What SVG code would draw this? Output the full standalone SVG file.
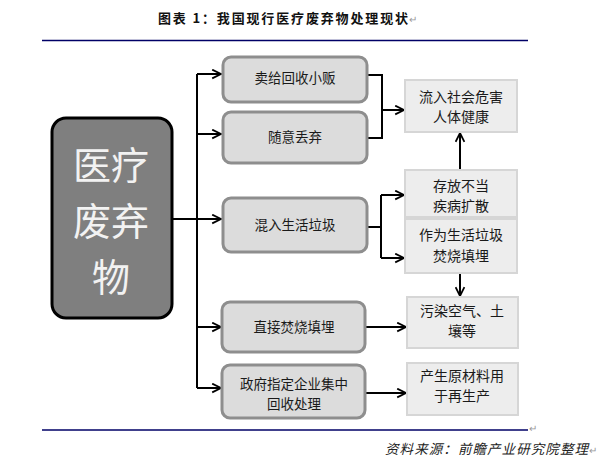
<svg xmlns="http://www.w3.org/2000/svg" width="610" height="462" viewBox="0 0 610 462">
<defs>
<style>
text{font-family:"Noto Sans CJK SC","Liberation Sans",sans-serif;}
.mid{fill:#dcdcdc;stroke:#8e8e8e;stroke-width:3;}
.rt{fill:#ededed;stroke:#d6d6d6;stroke-width:2;}
.t{font-size:13.5px;fill:#1a1a1a;text-anchor:middle;}
.r{font-size:14px;fill:#1a1a1a;text-anchor:middle;}
.big{font-size:38px;fill:#f2f2f2;text-anchor:middle;}
.ln{stroke:#000;stroke-width:2;fill:none;}
.ar{stroke:#000;stroke-width:2;fill:none;marker-end:url(#ah);}
.pm{font-size:10px;fill:#999;}
</style>
<marker id="ah" viewBox="0 0 10 10" refX="9" refY="5" markerWidth="5.5" markerHeight="5.5" orient="auto" markerUnits="strokeWidth">
<path d="M1,1 L9,5 L1,9" fill="none" stroke="#000" stroke-width="1.6"/>
</marker>
</defs>
<rect width="610" height="462" fill="#fff"/>
<text x="158" y="23" font-size="13" font-weight="bold" fill="#111" textLength="250" lengthAdjust="spacing">图表 1：我国现行医疗废弃物处理现状</text>
<text class="pm" x="409" y="23">↵</text>
<line x1="42" y1="40.5" x2="528" y2="40.5" stroke="#000066" stroke-width="1.5"/>
<line x1="42" y1="430" x2="528" y2="430" stroke="#000066" stroke-width="1.5"/>
<text class="pm" x="529" y="432">↵</text>
<text x="385" y="454" font-size="13.5" font-style="italic" fill="#222" textLength="203" lengthAdjust="spacing">资料来源：前瞻产业研究院整理</text>
<text class="pm" x="589" y="454">↵</text>

<g id="connectors">
<polyline class="ln" points="197,74 197,388"/>
<line class="ar" x1="197" y1="74" x2="221" y2="74"/>
<line class="ar" x1="197" y1="134" x2="221" y2="134"/>
<line class="ar" x1="172" y1="219" x2="221" y2="219"/>
<line class="ar" x1="197" y1="327" x2="221" y2="327"/>
<line class="ar" x1="197" y1="388" x2="221" y2="388"/>
<polyline class="ln" points="367,75 382,75 382,138 366,138"/>
<line class="ar" x1="382" y1="110" x2="404" y2="110"/>
<line class="ln" x1="367" y1="227" x2="381" y2="227"/>
<polyline class="ln" points="381,195 381,258"/>
<line class="ar" x1="381" y1="195" x2="404" y2="195"/>
<line class="ar" x1="381" y1="258" x2="404" y2="258"/>
<line class="ar" x1="460" y1="170" x2="460" y2="133"/>
<line class="ar" x1="460" y1="273" x2="460" y2="296"/>
<line class="ar" x1="365" y1="327" x2="406" y2="327"/>
<line class="ar" x1="365" y1="393" x2="406" y2="393"/>
</g>

<g id="n-main">
<rect x="52" y="118" width="120" height="200" rx="14" fill="#7f7f7f" stroke="#000" stroke-width="3"/>
<text class="big" x="111" y="179">医疗</text>
<text class="big" x="111" y="235">废弃</text>
<text class="big" x="111" y="291">物</text>
</g>

<g id="n-sell"><rect class="mid" x="223" y="57" width="144" height="45" rx="8"/><text class="t" x="295" y="83">卖给回收小贩</text></g>
<g id="n-discard"><rect class="mid" x="223" y="112" width="144" height="51" rx="8"/><text class="t" x="295" y="142">随意丢弃</text></g>
<g id="n-mix"><rect class="mid" x="223" y="198" width="144" height="54" rx="8"/><text class="t" x="295" y="230">混入生活垃圾</text></g>
<g id="n-burn"><rect class="mid" x="222" y="302" width="143" height="50" rx="8"/><text class="t" x="294" y="332">直接焚烧填埋</text></g>
<g id="n-gov"><rect class="mid" x="222" y="365" width="143" height="53" rx="8"/><text class="t" x="294" y="389">政府指定企业集中</text><text class="t" x="294" y="409">回收处理</text></g>

<g id="n-harm"><rect class="rt" x="405" y="80" width="112" height="52"/><text class="r" x="461" y="102">流入社会危害</text><text class="r" x="461" y="122">人体健康</text></g>
<g id="n-store"><rect class="rt" x="405" y="170" width="112" height="47"/><text class="r" x="461" y="191">存放不当</text><text class="r" x="461" y="211">疾病扩散</text></g>
<g id="n-asgarbage"><rect class="rt" x="405" y="219" width="112" height="54"/><text class="r" x="461" y="240">作为生活垃圾</text><text class="r" x="461" y="261">焚烧填埋</text></g>
<g id="n-pollute"><rect class="rt" x="407" y="297" width="111" height="51"/><text class="r" x="462" y="316">污染空气、土</text><text class="r" x="462" y="336">壤等</text></g>
<g id="n-reuse"><rect class="rt" x="407" y="363" width="111" height="52"/><text class="r" x="462" y="381">产生原材料用</text><text class="r" x="462" y="401">于再生产</text></g>
</svg>
